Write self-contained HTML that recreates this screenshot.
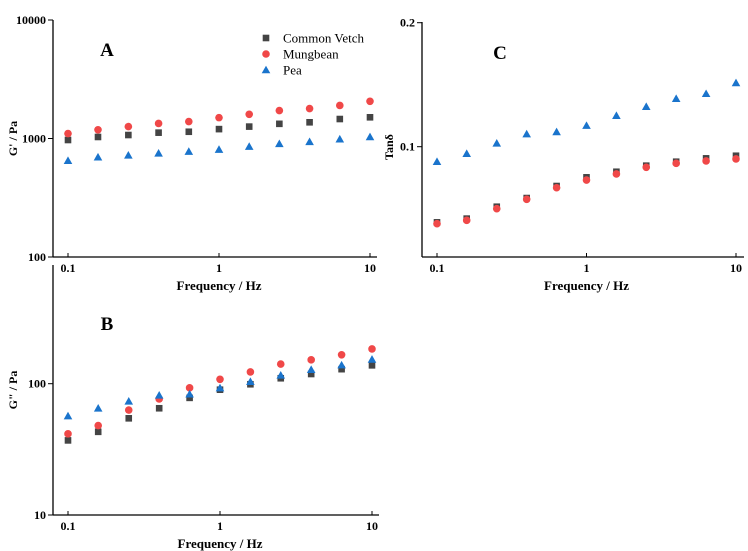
<!DOCTYPE html>
<html><head><meta charset="utf-8"><style>
body{margin:0;background:#fff}
svg{display:block;font-family:"Liberation Serif",serif;font-weight:bold}
</style></head><body>
<svg id="c" width="748" height="551"></svg>
<script>
const freqs=[0.1,0.158,0.251,0.398,0.631,1,1.585,2.51,3.98,6.31,10];
const aVetch=[971,1030,1070,1120,1140,1200,1260,1330,1370,1460,1510];
const aMung=[1100,1185,1260,1340,1390,1500,1600,1720,1790,1900,2060];
const aPea=[650,695,722,750,776,806,855,902,938,986,1030];
const bVetch=[37,43,54.5,65,78,90,99,110,118.5,129,138];
const bMung=[41.5,48,63,76.5,93,108,123,141,152,166,184];
const bPea=[56.7,65,73.4,81.6,83.2,92.7,103.6,115.8,127.8,138.5,153];
const cVetch=[0.039,0.042,0.0516,0.0586,0.0683,0.0753,0.0798,0.0847,0.0879,0.0906,0.0927];
const cMung=[0.0379,0.0406,0.05,0.0576,0.0669,0.0731,0.078,0.0834,0.0866,0.0885,0.0901];
const cPea=[0.0879,0.0944,0.1027,0.1102,0.1119,0.117,0.125,0.1323,0.1387,0.1427,0.1514];
const xTicks=["0.1","1","10"];
const aTicks=["100","1000","10000"];
const bTicks=["10","100"];
const cTicks=["0.1","0.2"];
const seriesNames=["Common Vetch","Mungbean","Pea"];
const NS="http://www.w3.org/2000/svg";
const svg=document.getElementById('c');
function mk(t,a,p){const e=document.createElementNS(NS,t);for(const k in a)e.setAttribute(k,a[k]);(p||svg).appendChild(e);return e;}
function txt(x,y,s,size,anchor,p){const e=mk('text',{x:x,y:y,'font-size':size,'text-anchor':anchor||'middle'},p);e.textContent=s;return e;}
function logX(x0,x1){return v=>x0+(Math.log10(v)+1)/2*(x1-x0);}
function marker(g,kind,x,y){let e;
 if(kind===0){e=mk('rect',{x:x-3.3,y:y-3.3,width:6.6,height:6.6,fill:'#444'},g);}
 else if(kind===1){e=mk('circle',{cx:x,cy:y,r:3.8,fill:'#f04848'},g);}
 else {e=mk('polygon',{points:`${x},${y-4.3} ${x+4.3},${y+3.3} ${x-4.3},${y+3.3}`,fill:'#1a74cc'},g);}
 return e;}
function panel(name,ax,ay0,ay1,axEnd,xs,ys,yTicks,series,ytitle,ytx,letter,lx,ly){
 const g=mk('g',{});
 
 
 const ya=mk('line',{x1:ax,y1:ay0,x2:ax,y2:ay1,stroke:'#000','stroke-width':1.3},g);
 
 const xa=mk('line',{x1:ax,y1:ay1,x2:axEnd,y2:ay1,stroke:'#000','stroke-width':1.3},g);
 
 xTicks.forEach(t=>{const x=xs(parseFloat(t));mk('line',{x1:x,y1:ay1,x2:x,y2:ay1-4,stroke:'#000'},g);
  const l=txt(x,ay1+15,t,12,'middle',g);});
 yTicks.forEach(t=>{const y=ys(parseFloat(t));mk('line',{x1:ax,y1:y,x2:ax-5,y2:y,stroke:'#000'},g);
  const l=txt(ax-7,y+4,t,12,'end',g);});
 const xt=txt((xs(0.1)+xs(10))/2,ay1+33,'Frequency / Hz',13,'middle',g);
 
 const yc=(ay0+ay1)/2;
 const yt=txt(0,0,ytitle,12,'middle',g);yt.setAttribute('transform',`translate(${ytx},${ytitle.startsWith('Tan')?147:yc}) rotate(-90)`);
 
 const lt=txt(lx,ly,letter,19,'middle',g);
 series.forEach((arr,k)=>{arr.forEach((v,i)=>{const m=marker(g,k,xs(freqs[i]),ys(v));
  
  });});
}
const xsA=logX(68,370);
const ysA=v=>257-(Math.log10(v)-2)*118.5;
panel('panel-a-storage-modulus',53,20,257,377,xsA,ysA,aTicks,[aVetch,aMung,aPea],"G' / Pa",17,'A',107,56);
const xsB=logX(68,372);
const ysB=v=>515-(Math.log10(v)-1)*131.3;
panel('panel-b-loss-modulus',53,265,515,379,xsB,ysB,bTicks,[bVetch,bMung,bPea],'G" / Pa',17,'B',107,330);
const xsC=logX(437,736);
const ysC=v=>146.7-(v-0.1)*1240;
panel('panel-c-tan-delta',422,22,257,744,xsC,ysC,cTicks,[cVetch,cMung,cPea],'Tanδ',393,'C',500,59);
const lg=mk('g',{});


seriesNames.forEach((n,k)=>{const y=38+k*16;const m=marker(lg,k,266,y);
 
 const t=txt(283,y+4.5,n,13,'start',lg);t.setAttribute('font-weight','normal');
 });
</script>
</body></html>
